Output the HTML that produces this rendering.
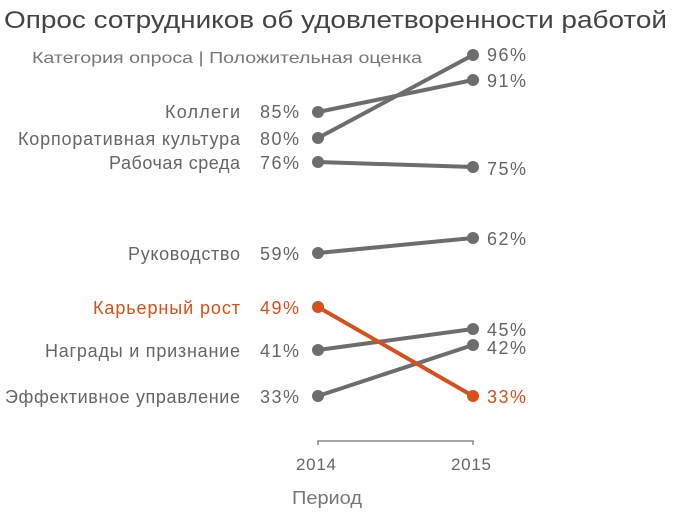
<!DOCTYPE html><html><head><meta charset="utf-8"><style>body{margin:0;background:#fff}svg{display:block}text{font-family:"Liberation Sans",sans-serif}</style></head><body>
<svg width="675" height="515" xmlns="http://www.w3.org/2000/svg">
<text x="4" y="28" font-size="24" fill="#444" textLength="663" lengthAdjust="spacingAndGlyphs">Опрос сотрудников об удовлетворенности работой</text>
<text x="32" y="63" font-size="16" fill="#777" textLength="390" lengthAdjust="spacingAndGlyphs">Категория опроса | Положительная оценка</text>
<g stroke="#6d6d70" stroke-width="4" fill="#6d6d70">
<line x1="318" y1="112" x2="473" y2="80"/><line x1="318" y1="138" x2="473" y2="55"/>
<line x1="318" y1="162" x2="473" y2="167"/><line x1="318" y1="253" x2="473" y2="238"/>
<line x1="318" y1="350" x2="473" y2="329"/><line x1="318" y1="396" x2="473" y2="345"/>
</g>
<g fill="#6d6d70">
<circle cx="318" cy="112" r="6"/><circle cx="473" cy="80" r="6"/><circle cx="318" cy="138" r="6"/><circle cx="473" cy="55" r="6"/>
<circle cx="318" cy="162" r="6"/><circle cx="473" cy="167" r="6"/><circle cx="318" cy="253" r="6"/><circle cx="473" cy="238" r="6"/>
<circle cx="318" cy="350" r="6"/><circle cx="473" cy="329" r="6"/><circle cx="318" cy="396" r="6"/><circle cx="473" cy="345" r="6"/>
</g>
<line x1="318" y1="307" x2="473" y2="396" stroke="#d6501c" stroke-width="4"/>
<circle cx="318" cy="307" r="6" fill="#d6501c"/><circle cx="473" cy="396" r="6" fill="#d6501c"/>
<g font-size="18" fill="#666" lengthAdjust="spacingAndGlyphs">
<text x="165" y="118" textLength="75">Коллеги</text>
<text x="18" y="145" textLength="222">Корпоративная культура</text>
<text x="109" y="169" textLength="131">Рабочая среда</text>
<text x="128" y="260" textLength="112">Руководство</text>
<text x="45" y="357" textLength="195">Награды и признание</text>
<text x="5" y="403" textLength="235">Эффективное управление</text>
<text x="260" y="118" textLength="39">85%</text><text x="260" y="145" textLength="39">80%</text>
<text x="260" y="169" textLength="39">76%</text><text x="260" y="260" textLength="39">59%</text>
<text x="260" y="357" textLength="39">41%</text><text x="260" y="403" textLength="39">33%</text>
<text x="487" y="61" textLength="39">96%</text><text x="487" y="87" textLength="39">91%</text><text x="487" y="175" textLength="39">75%</text>
<text x="487" y="245" textLength="39">62%</text><text x="487" y="336" textLength="39">45%</text><text x="487" y="354" textLength="39">42%</text>
</g>
<g font-size="18" fill="#d6501c" lengthAdjust="spacingAndGlyphs"><text x="93" y="314" textLength="147">Карьерный рост</text><text x="260" y="314" textLength="39">49%</text><text x="487" y="403" textLength="39">33%</text></g>
<path d="M318 445V441H473V445" stroke="#888" stroke-width="1.5" fill="none"/>
<g font-size="17" fill="#666" lengthAdjust="spacingAndGlyphs"><text x="296" y="470" textLength="40">2014</text><text x="451" y="470" textLength="40">2015</text></g>
<text x="292" y="504" font-size="18" fill="#777" textLength="70" lengthAdjust="spacingAndGlyphs">Период</text>
</svg></body></html>
